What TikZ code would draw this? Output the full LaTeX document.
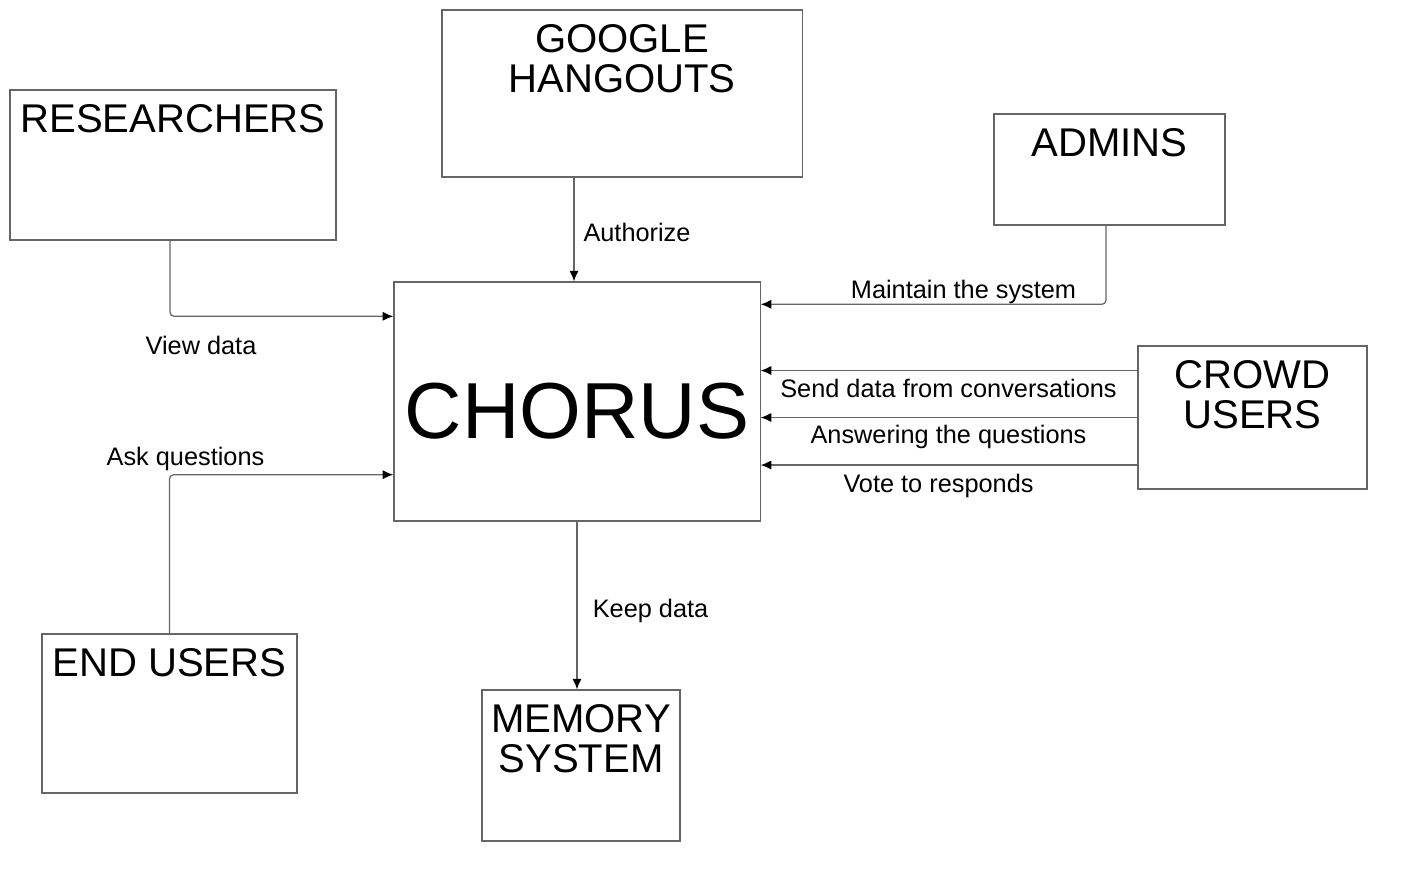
\documentclass[tikz,border=0pt]{standalone}
\usepackage{fontspec}
\setmainfont{Liberation Sans}
\usepackage{tikz}
\usetikzlibrary{arrows.meta,calc}

\tikzset{
  box/.style={draw=black!60, line width=0.35pt, inner sep=0pt},
  title/.style={anchor=north, align=center, inner sep=0pt, yshift=-4.2pt, font=\fontsize{11.4}{11.4}\selectfont},
  lbl/.style={inner sep=0pt, font=\fontsize{7.2}{8.6}\selectfont},
  flow/.style={draw=black!60, line width=0.35pt, -{Latex[black,length=3pt,width=2.6pt]}, rounded corners=1.2pt}
}

\begin{document}
\begin{tikzpicture}[x=0.01cm, y=-0.01cm]
\useasboundingbox (0,0) rectangle (1407,881);

% boxes
\node[box, minimum width=3.26cm, minimum height=1.50cm] (res) at (173,165) {};
\node[box, minimum width=3.60cm, minimum height=1.67cm] (goo) at (622,93.5) {};
\node[box, minimum width=2.31cm, minimum height=1.11cm] (adm) at (1109.5,169.5) {};
\node[box, minimum width=3.66cm, minimum height=2.39cm] (chorus) at (577,401.5) {};
\node[box, minimum width=2.29cm, minimum height=1.43cm] (crowd) at (1252.5,417.5) {};
\node[box, minimum width=2.55cm, minimum height=1.59cm] (end) at (169.5,713.5) {};
\node[box, minimum width=1.98cm, minimum height=1.51cm] (mem) at (581,765.5) {};

\node[title] (resT) at (res.north) {RESEARCHERS};
\node[title] (gooT) at (goo.north) {GOOGLE\\HANGOUTS};
\node[title] (admT) at (adm.north) {ADMINS};
\node[title] (crowdT) at (crowd.north) {CROWD\\USERS};
\node[title] (endT) at (end.north) {END USERS};
\node[title] (memT) at (mem.north) {MEMORY\\SYSTEM};
\node[font=\fontsize{22.6}{22.6}\selectfont, inner sep=0pt] (chorusT) at (577,411) {CHORUS};

% connectors
\coordinate (gA) at ($(goo.south)+(-48,0)$);
\draw[flow] (gA) -- (gA |- chorus.north);
\draw[flow] (res.south) ++(-3,0) coordinate (rA) |- ($(chorus.north west)+(0,35)$);
\draw[flow] (adm.south) ++(-3.5,0) coordinate (aA) |- ($(chorus.north east)+(0,23)$);
\draw[flow] ($(crowd.west)+(0,-47)$) coordinate (c1) -- (c1 -| chorus.east);
\draw[flow] (crowd.west) -- (crowd.west -| chorus.east);
\draw[flow] ($(crowd.west)+(0,47.5)$) coordinate (c3) -- (c3 -| chorus.east);
\draw[flow] (end.north) |- ($(chorus.south west)+(0,-47)$);
\draw[flow] (chorus.south) -- (chorus.south |- mem.north);

% labels
\node[lbl] (view) at (201,345) {View data};
\node[lbl] (auth) at (637,232) {Authorize};
\node[lbl] (maint) at (963.5,291.5) {Maintain the system};
\node[lbl] (send) at (948.5,388.5) {Send data from conversations};
\node[lbl] (answ) at (948.5,436.5) {Answering the questions};
\node[lbl] (vote) at (938.5,485.5) {Vote to responds};
\node[lbl] (ask) at (185.5,458.5) {Ask questions};
\node[lbl] (keep) at (650.5,610.5) {Keep data};

\end{tikzpicture}
\end{document}
